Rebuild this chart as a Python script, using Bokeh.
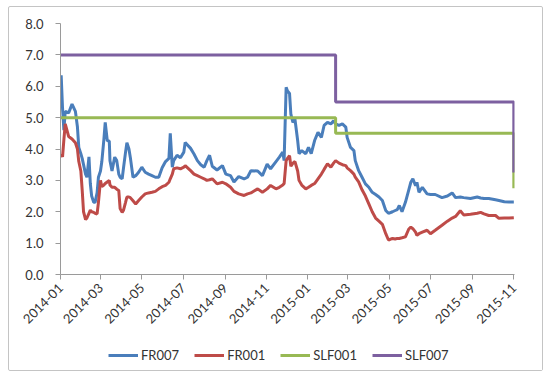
import pandas as pd
from math import pi
from bokeh.plotting import figure
from bokeh.layouts import column
from bokeh.models import (Range1d, DatetimeTickFormatter, MonthsTicker, Legend,
                          LegendItem, SingleIntervalTicker, NumeralTickFormatter)
from bokeh.embed import file_html
from bokeh.resources import INLINE

dates = [
    "2014-01-02", "2014-01-04", "2014-01-06", "2014-01-08", "2014-01-13", "2014-01-18",
    "2014-01-23", "2014-01-26", "2014-01-28", "2014-01-31", "2014-02-02", "2014-02-04",
    "2014-02-07", "2014-02-09", "2014-02-12", "2014-02-14", "2014-02-16", "2014-02-19",
    "2014-02-21", "2014-02-24", "2014-02-26", "2014-03-01", "2014-03-03", "2014-03-06",
    "2014-03-08", "2014-03-11", "2014-03-14", "2014-03-15", "2014-03-18", "2014-03-22",
    "2014-03-25", "2014-03-28", "2014-03-30", "2014-04-02", "2014-04-04", "2014-04-07",
    "2014-04-09", "2014-04-12", "2014-04-14", "2014-04-18", "2014-04-22", "2014-04-26",
    "2014-05-01", "2014-05-06", "2014-05-11", "2014-05-16", "2014-05-21", "2014-05-26",
    "2014-05-31", "2014-06-05", "2014-06-10", "2014-06-12", "2014-06-15", "2014-06-17",
    "2014-06-22", "2014-06-27", "2014-07-02", "2014-07-04", "2014-07-12", "2014-07-17",
    "2014-07-22", "2014-07-27", "2014-08-01", "2014-08-05", "2014-08-09", "2014-08-13",
    "2014-08-20", "2014-08-28", "2014-09-02", "2014-09-09", "2014-09-14", "2014-09-21",
    "2014-09-29", "2014-10-04", "2014-10-09", "2014-10-19", "2014-10-26", "2014-11-02",
    "2014-11-07", "2014-11-15", "2014-11-20", "2014-11-25", "2014-11-27", "2014-11-30",
    "2014-12-02", "2014-12-05", "2014-12-07", "2014-12-10", "2014-12-13", "2014-12-17",
    "2014-12-19", "2014-12-23", "2014-12-29", "2015-01-02", "2015-01-06", "2015-01-11",
    "2015-01-16", "2015-01-21", "2015-01-25", "2015-01-30", "2015-02-04", "2015-02-08",
    "2015-02-11", "2015-02-16", "2015-02-21", "2015-02-26", "2015-02-28", "2015-03-05",
    "2015-03-10", "2015-03-12", "2015-03-17", "2015-03-22", "2015-03-27", "2015-04-01",
    "2015-04-06", "2015-04-11", "2015-04-16", "2015-04-21", "2015-04-26", "2015-04-30",
    "2015-05-06", "2015-05-10", "2015-05-13", "2015-05-16", "2015-05-20", "2015-05-25",
    "2015-05-30", "2015-06-02", "2015-06-05", "2015-06-09", "2015-06-11", "2015-06-14",
    "2015-06-19", "2015-06-26", "2015-07-01", "2015-07-08", "2015-07-18", "2015-07-26",
    "2015-08-02", "2015-08-07", "2015-08-14", "2015-08-19", "2015-08-29", "2015-09-08",
    "2015-09-13", "2015-09-18", "2015-09-25", "2015-10-05", "2015-10-10", "2015-10-18",
    "2015-10-25", "2015-11-01",
]

fr007 = [
    6.35, 5.30, 4.60, 5.20, 5.15, 5.43, 5.20, 4.70, 4.05, 3.85, 3.70, 3.50,
    3.20, 3.10, 3.75, 2.90, 2.50, 2.30, 2.30, 2.60, 3.10, 3.30, 3.60, 4.30,
    4.85, 4.27, 4.25, 3.63, 3.30, 3.74, 3.63, 3.20, 3.10, 3.05, 3.40, 3.90,
    4.20, 4.00, 3.74, 3.10, 3.15, 3.25, 3.42, 3.26, 3.20, 3.15, 3.10, 3.10,
    3.40, 3.60, 3.70, 4.50, 3.42, 3.63, 3.80, 3.72, 3.90, 4.21, 4.02, 3.84,
    3.63, 3.50, 3.42, 3.63, 3.80, 3.45, 3.33, 3.47, 3.20, 3.15, 2.95, 3.12,
    3.05, 3.10, 3.31, 3.30, 3.15, 3.52, 3.37, 3.60, 3.74, 3.90, 3.63, 5.97,
    5.85, 5.77, 5.10, 4.85, 4.95, 4.27, 3.85, 3.95, 3.85, 4.05, 3.85, 4.27,
    4.53, 4.37, 4.75, 4.85, 4.80, 4.90, 4.80, 4.75, 4.80, 4.70, 4.37, 4.05,
    3.95, 3.63, 3.31, 3.10, 2.89, 2.78, 2.62, 2.55, 2.47, 2.36, 2.04, 1.95,
    2.00, 2.04, 2.07, 2.20, 2.00, 2.30, 2.70, 2.94, 3.05, 2.83, 2.94, 2.62,
    2.78, 2.57, 2.55, 2.55, 2.45, 2.50, 2.60, 2.45, 2.47, 2.45, 2.42, 2.47,
    2.44, 2.42, 2.42, 2.38, 2.36, 2.32, 2.31, 2.31,
]

fr001 = [
    3.85, 3.75, 4.30, 4.80, 4.40, 4.32, 4.20, 4.00, 3.60, 3.30, 2.70, 2.00,
    1.75, 1.80, 1.95, 2.05, 2.00, 1.98, 1.95, 1.93, 2.30, 3.00, 2.80, 2.85,
    2.90, 2.95, 3.00, 2.85, 2.78, 2.78, 2.72, 2.68, 2.10, 1.98, 2.05, 2.30,
    2.47, 2.47, 2.45, 2.35, 2.25, 2.35, 2.47, 2.57, 2.60, 2.62, 2.65, 2.73,
    2.80, 2.84, 2.94, 3.05, 3.20, 3.37, 3.40, 3.37, 3.42, 3.47, 3.31, 3.20,
    3.15, 3.10, 3.05, 3.00, 3.02, 3.05, 2.89, 2.94, 2.89, 2.78, 2.65, 2.57,
    2.52, 2.57, 2.60, 2.73, 2.62, 2.73, 2.84, 2.73, 2.78, 2.85, 2.90, 3.63,
    3.70, 3.79, 3.45, 3.55, 3.60, 3.30, 3.00, 2.85, 2.73, 2.78, 2.84, 2.90,
    3.05, 3.20, 3.35, 3.53, 3.42, 3.55, 3.63, 3.55, 3.50, 3.47, 3.40, 3.31,
    3.20, 3.10, 2.95, 2.70, 2.50, 2.25, 2.00, 1.80, 1.70, 1.60, 1.30, 1.10,
    1.15, 1.13, 1.15, 1.15, 1.17, 1.20, 1.45, 1.51, 1.46, 1.35, 1.25, 1.30,
    1.35, 1.41, 1.30, 1.41, 1.57, 1.70, 1.80, 1.85, 2.03, 1.90, 1.92, 1.95,
    1.98, 1.93, 1.88, 1.88, 1.79, 1.80, 1.80, 1.81,
]

slf_dates = ["2014-01-01", "2015-02-11", "2015-11-01"]
slf001 = [5.0, 4.5, 2.75]
slf007 = [7.0, 5.5, 3.25]

series_names = ["FR007", "FR001", "SLF001", "SLF007"]
colors = ["#4A7EBB", "#BE4B48", "#98B954", "#7D60A0"]

x = pd.to_datetime(dates)
xs = pd.to_datetime(slf_dates)

FONT = "Lato"
TXT = "#333333"
AX = "#9a9a9a"
FS = "13px"
W = 533

x_start, x_end = pd.Timestamp("2014-01-01"), pd.Timestamp("2015-11-02")

p = figure(width=W, height=333, x_axis_type="datetime",
           x_range=Range1d(x_start, x_end), y_range=Range1d(0, 8),
           output_backend="svg", toolbar_location=None,
           min_border_left=51, min_border_right=28, min_border_top=16,
           min_border_bottom=66)
p.outline_line_color = None
p.xgrid.visible = False
p.ygrid.visible = False
p.background_fill_color = "white"
p.border_fill_color = "white"

r1 = p.line(x, fr007, line_color=colors[0], line_width=3)
r2 = p.line(x, fr001, line_color=colors[1], line_width=3)
r3 = p.step(xs, slf001, mode="after", line_color=colors[2], line_width=3)
r4 = p.step(xs, slf007, mode="after", line_color=colors[3], line_width=3)

xa = p.xaxis[0]
xa.ticker = MonthsTicker(months=[0, 2, 4, 6, 8, 10])
xa.formatter = DatetimeTickFormatter(months="%Y-%m", days="%Y-%m", years="%Y-%m")
xa.major_label_orientation = pi / 4
xa.minor_tick_line_color = None
xa.major_tick_in = 0
xa.major_tick_out = 5
xa.axis_line_color = AX
xa.major_tick_line_color = AX
xa.major_label_text_font = FONT
xa.major_label_text_font_size = FS
xa.major_label_text_color = TXT
xa.major_label_standoff = 6

ya = p.yaxis[0]
ya.ticker = SingleIntervalTicker(interval=1, num_minor_ticks=0)
ya.formatter = NumeralTickFormatter(format="0.0")
ya.minor_tick_line_color = None
ya.major_tick_in = 0
ya.major_tick_out = 5
ya.axis_line_color = AX
ya.major_tick_line_color = AX
ya.major_label_text_font = FONT
ya.major_label_text_font_size = FS
ya.major_label_text_color = TXT
ya.major_label_standoff = 12

# legend strip under the chart (same series, y window kept off their values)
q = figure(width=W, height=30, x_axis_type="datetime", output_backend="svg",
           toolbar_location=None, x_range=Range1d(x_start, x_end),
           y_range=Range1d(100, 101),
           min_border=0, min_border_left=0, min_border_right=0,
           min_border_top=0, min_border_bottom=0)
q.axis.visible = False
q.grid.visible = False
q.outline_line_color = None
q.border_fill_color = "white"
q1 = q.line(x, fr007, line_color=colors[0], line_width=3)
q2 = q.line(x, fr001, line_color=colors[1], line_width=3)
q3 = q.step(xs, slf001, mode="after", line_color=colors[2], line_width=3)
q4 = q.step(xs, slf007, mode="after", line_color=colors[3], line_width=3)
legend = Legend(items=[LegendItem(label=n, renderers=[r]) for n, r in
                       zip(series_names, [q1, q2, q3, q4])],
                orientation="horizontal", location=(48, 5),
                border_line_color=None, background_fill_alpha=0,
                label_text_font=FONT, label_text_font_size=FS,
                label_text_color=TXT, glyph_width=30, label_standoff=3,
                spacing=15, padding=0, margin=0)
q.add_layout(legend)

lay = column(p, q, spacing=0, margin=(6, 0, 0, 8),
             styles={"border": "1px solid #c4c4c4", "border-radius": "2px",
                     "background-color": "white"})

open("out.html", "w").write(file_html(lay, INLINE))
